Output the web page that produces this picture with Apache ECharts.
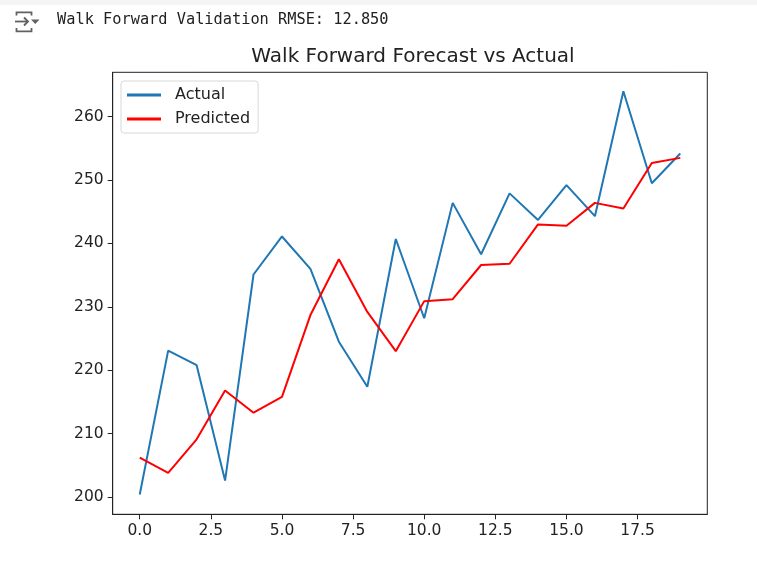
<!DOCTYPE html>
<html>
<head>
<meta charset="utf-8">
<script src="https://cdn.jsdelivr.net/npm/echarts@6/dist/echarts.min.js"></script>
<style>
html,body{margin:0;padding:0;background:#fff;}
#chart{width:757px;height:565px;}
</style>
</head>
<body>
<div id="chart"></div>
<script>
const steps = [0,1,2,3,4,5,6,7,8,9,10,11,12,13,14,15,16,17,18,19];
const actual = [200.4,223.1,220.8,202.6,235.1,241.1,236.0,224.5,217.4,240.7,228.2,246.4,238.3,247.9,243.7,249.2,244.3,264.0,249.5,254.2];
const predicted = [206.2,203.8,209.1,216.8,213.3,215.8,228.7,237.5,229.2,223.0,230.9,231.2,236.6,236.8,243.0,242.8,246.4,245.5,252.7,253.5];
const xTicks = [0,2.5,5,7.5,10,12.5,15,17.5];
const yTicks = [200,210,220,230,240,250,260];
const headerText = 'Walk Forward Validation RMSE: 12.850';
const titleText = 'Walk Forward Forecast vs Actual';

const chart = echarts.init(document.getElementById('chart'), null, {renderer:'canvas'});
const font = 'DejaVu Sans';
const axisCommon = {
  axisLine:{show:true,onZero:false,lineStyle:{color:'#222',width:1}},
  axisTick:{show:true,inside:false,length:5,lineStyle:{color:'#222',width:1}},
  splitLine:{show:false},
  axisLabel:{color:'#222',fontFamily:font,fontSize:15.5}
};
chart.setOption({
  animation:false,
  backgroundColor:'#fff',
  title:{text:titleText,left:408,textAlign:'center',top:42,
    textStyle:{fontFamily:font,fontSize:20,fontWeight:'normal',color:'#222'}},
  grid:{left:112.7,right:49.7,top:72.3,bottom:50.7,show:true,borderColor:'#222',borderWidth:1,containLabel:false},
  legend:{left:121,top:81,orient:'vertical',itemWidth:34,itemHeight:3,itemGap:8,padding:[6,8,6,6],
    backgroundColor:'#fff',borderColor:'#d8d8d8',borderWidth:1,borderRadius:3,
    textStyle:{fontFamily:font,fontSize:16,color:'#222',padding:[0,0,0,9]},
    data:[{name:'Actual',icon:'rect'},{name:'Predicted',icon:'rect'}]},
  xAxis:Object.assign({type:'value',min:-0.95,max:19.95},axisCommon,{
    axisTick:Object.assign({},axisCommon.axisTick,{customValues:xTicks}),
    axisLabel:Object.assign({},axisCommon.axisLabel,{customValues:xTicks,margin:9,formatter:v=>v.toFixed(1)})}),
  yAxis:Object.assign({type:'value',min:197.27,max:267.0},axisCommon,{
    axisTick:Object.assign({},axisCommon.axisTick,{customValues:yTicks}),
    axisLabel:Object.assign({},axisCommon.axisLabel,{customValues:yTicks,margin:9})}),
  series:[
    {name:'Actual',type:'line',data:steps.map((s,i)=>[s,actual[i]]),showSymbol:false,symbol:'none',
      lineStyle:{color:'#1f77b4',width:2},itemStyle:{color:'#1f77b4'}},
    {name:'Predicted',type:'line',data:steps.map((s,i)=>[s,predicted[i]]),showSymbol:false,symbol:'none',
      lineStyle:{color:'#ff0000',width:2},itemStyle:{color:'#ff0000'}}
  ],
  graphic:[
    {type:'rect',shape:{x:0,y:0,width:757,height:5},style:{fill:'#f5f5f5'},silent:true},
    {type:'text',left:57,top:13,style:{text:headerText,fontFamily:'DejaVu Sans Mono',fontSize:15.3,fill:'#212121'}},
    {type:'polyline',shape:{points:[[16.5,15.5],[16.5,12.3],[31.5,12.3],[31.5,15.5]]},style:{stroke:'#616161',lineWidth:1.8,fill:null}},
    {type:'polyline',shape:{points:[[16.5,28],[16.5,31.3],[31.5,31.3],[31.5,28]]},style:{stroke:'#616161',lineWidth:1.8,fill:null}},
    {type:'line',shape:{x1:15,y1:21.5,x2:28,y2:21.5},style:{stroke:'#616161',lineWidth:1.8}},
    {type:'polyline',shape:{points:[[24,17.5],[28,21.5],[24,25.5]]},style:{stroke:'#616161',lineWidth:1.8,fill:null}},
    {type:'polygon',shape:{points:[[31,19.5],[39.5,19.5],[35.25,24]]},style:{fill:'#616161'}}
  ]
});
</script>
</body>
</html>
